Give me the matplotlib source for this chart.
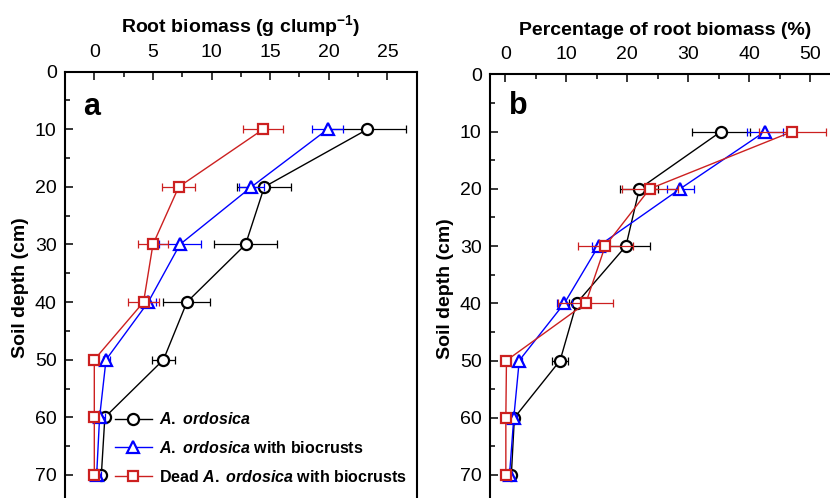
import matplotlib
matplotlib.use("Agg")
import matplotlib.pyplot as plt
from matplotlib.ticker import MultipleLocator

plt.rcParams['font.family'] = ['Liberation Sans', 'DejaVu Sans']
plt.rcParams['mathtext.fontset'] = 'custom'
plt.rcParams['mathtext.rm'] = 'Liberation Sans:bold'
plt.rcParams['mathtext.bf'] = 'Liberation Sans:bold'
plt.rcParams['mathtext.it'] = 'Liberation Sans:italic:bold'

depth = [10, 20, 30, 40, 50, 60, 70]

# Panel a: root biomass (g clump-1)
a_ao = [23.3, 14.5, 12.9, 7.9, 5.9, 0.9, 0.6]
a_ao_err = [3.3, 2.3, 2.7, 2.0, 1.0, 0.3, 0.2]
a_aob = [19.9, 13.4, 7.3, 4.6, 1.0, 0.45, 0.2]
a_aob_err = [1.3, 1.1, 1.8, 0.7, 0.3, 0.5, 0.4]
a_dead = [14.4, 7.2, 5.0, 4.2, 0.0, 0.0, 0.0]
a_dead_err = [1.7, 1.4, 1.3, 1.3, 0.1, 0.1, 0.1]

# Panel b: percentage of root biomass (%)
b_ao = [35.4, 22.0, 19.8, 11.7, 9.0, 1.5, 1.0]
b_ao_err = [4.8, 3.1, 4.0, 1.2, 1.3, 0.4, 0.3]
b_aob = [42.6, 28.7, 15.3, 9.7, 2.3, 1.4, 0.7]
b_aob_err = [2.9, 2.2, 1.0, 1.2, 0.4, 0.6, 0.4]
b_dead = [47.1, 23.7, 16.4, 13.2, 0.2, 0.1, 0.1]
b_dead_err = [5.5, 4.6, 4.5, 4.5, 0.1, 0.1, 0.1]

labels = [r'$\mathit{A.}$ $\mathit{ordosica}$',
          r'$\mathit{A.}$ $\mathit{ordosica}$ with biocrusts',
          r'Dead $\mathit{A.}$ $\mathit{ordosica}$ with biocrusts']
colors = ['black', '#0000ff', '#cc2020']
markers = ['o', '^', 's']
msizes = [8, 8.5, 7]

W, H = 830, 498
fig = plt.figure(figsize=(W / 100, H / 100), dpi=100)

def frac(l, t, r, b):
    return [l / W, 1 - b / H, (r - l) / W, (b - t) / H]

axa = fig.add_axes(frac(65, 71.7, 416.7, 503.7))
axb = fig.add_axes(frac(490, 74.3, 840.5, 503.6))

def draw(ax, series, errs, xlim, xmaj, xmin, xlabel, letter, lpos):
    handles = []
    for vals, err, c, m, ms, lab in zip(series, errs, colors, markers, msizes, labels):
        ax.errorbar(vals, depth, xerr=err, fmt='none', ecolor=c, elinewidth=0.9,
                    capsize=3, capthick=0.9)
        h, = ax.plot(vals, depth, color=c, lw=1.0, marker=m, ms=ms,
                     mfc='white', mec=c, mew=1.6, label=lab)
        handles.append(h)
    ax.set_xlim(*xlim)
    ax.set_ylim(75, 0)
    ax.xaxis.set_major_locator(MultipleLocator(xmaj))
    ax.xaxis.set_minor_locator(MultipleLocator(xmin))
    ax.set_yticks([0, 10, 20, 30, 40, 50, 60, 70])
    ax.yaxis.set_minor_locator(MultipleLocator(5))
    ax.xaxis.tick_top()
    ax.xaxis.set_label_position('top')
    ax.tick_params(axis='both', which='both', direction='in', width=1.1,
                   labelsize=14, bottom=False, right=False)
    ax.tick_params(axis='both', which='major', length=6)
    ax.tick_params(axis='both', which='minor', length=3.5)
    ax.tick_params(axis='x', pad=8)
    ax.tick_params(axis='y', pad=6)
    for s in ax.spines.values():
        s.set_linewidth(1.5)
    ax.set_xlabel(xlabel, fontsize=14, fontweight='bold', labelpad=8)
    ax.set_ylabel('Soil depth (cm)', fontsize=14, fontweight='bold', labelpad=4)
    ax.text(lpos[0], lpos[1], letter, transform=ax.transAxes, fontsize=22,
            fontweight='bold', ha='left', va='baseline')
    return handles

ha = draw(axa, [a_ao, a_aob, a_dead], [a_ao_err, a_aob_err, a_dead_err],
          (-2.5, 27.5), 5, 2.5, r'Root biomass (g clump$^{-1}$)', 'a', (0.051, 0.8998))
draw(axb, [b_ao, b_aob, b_dead], [b_ao_err, b_aob_err, b_dead_err],
     (-2.5, 55), 10, 5, 'Percentage of root biomass (%)', 'b', (0.054, 0.9075))

leg = axa.legend(handles=ha, loc='center left', bbox_to_anchor=(0.142, 0.129),
                 frameon=False, borderpad=0, borderaxespad=0, handlelength=2.3,
                 handletextpad=0.45, labelspacing=0.8,
                 prop={'size': 11.5, 'weight': 'bold'})

fig.savefig('out.png', dpi=100)
